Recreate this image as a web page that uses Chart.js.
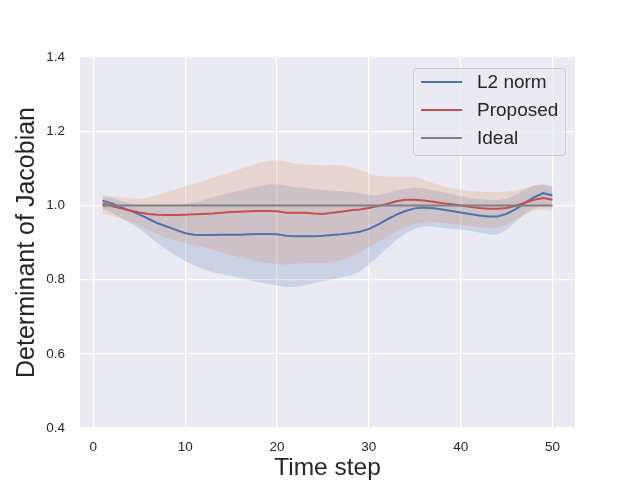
<!DOCTYPE html>
<html>
<head>
<meta charset="utf-8">
<script src="https://cdn.jsdelivr.net/npm/chart.js@4/dist/chart.umd.min.js"></script>
<style>
  body { margin: 0; background: #fff; }
  #wrap { position: relative; width: 640px; height: 480px; }
  #legend {
    position: absolute; left: 413px; top: 68px; width: 151px; height: 86px;
    background: rgba(234, 234, 242, 0.8); border: 1px solid #cccccc; border-radius: 4px;
    font-family: "Liberation Sans", Arial, sans-serif; font-size: 19px; color: #262626;
  }
  .item { position: absolute; left: 0; height: 28px; display: flex; align-items: center; }
  .swatch { width: 41px; height: 2px; margin-left: 7px; margin-right: 15px; }
</style>
</head>
<body>
<div id="wrap">
  <canvas id="chart" width="640" height="480"></canvas>
  <div id="legend"></div>
</div>
<script>
// time steps 1..50
const steps = [1,2,3,4,5,6,7,8,9,10,11,12,13,14,15,16,17,18,19,20,21,22,23,24,25,
               26,27,28,29,30,31,32,33,34,35,36,37,38,39,40,41,42,43,44,45,46,47,48,49,50];

// L2 norm mean and band
const l2Mean = [1.013,1.005,0.995,0.986,0.976,0.964,0.952,0.943,0.934,0.925,
                0.921,0.920,0.920,0.921,0.921,0.921,0.922,0.923,0.923,0.922,
                0.918,0.917,0.917,0.917,0.918,0.920,0.922,0.925,0.929,0.936,
                0.948,0.962,0.975,0.985,0.992,0.994,0.992,0.989,0.985,0.981,
                0.977,0.973,0.970,0.970,0.977,0.990,1.007,1.022,1.033,1.027];
const l2Upper = [1.025,1.020,1.012,1.005,1.000,0.999,0.999,1.000,1.002,1.004,
                 1.008,1.014,1.022,1.028,1.034,1.040,1.046,1.051,1.056,1.057,
                 1.053,1.049,1.047,1.044,1.042,1.040,1.038,1.036,1.033,1.028,
                 1.028,1.033,1.040,1.045,1.048,1.046,1.041,1.036,1.030,1.025,
                 1.020,1.017,1.015,1.014,1.018,1.028,1.042,1.054,1.057,1.050];
const l2Lower = [0.990,0.980,0.967,0.952,0.938,0.918,0.898,0.880,0.865,0.850,
                 0.838,0.828,0.820,0.815,0.810,0.805,0.798,0.793,0.788,0.784,
                 0.780,0.781,0.785,0.790,0.796,0.800,0.806,0.812,0.822,0.840,
                 0.862,0.885,0.906,0.925,0.937,0.944,0.943,0.940,0.937,0.935,
                 0.932,0.927,0.922,0.921,0.935,0.955,0.978,0.993,1.000,0.995];

// Proposed mean and band
const propMean = [1.005,0.998,0.992,0.986,0.981,0.977,0.975,0.974,0.974,0.975,
                  0.976,0.977,0.978,0.980,0.982,0.983,0.984,0.985,0.985,0.984,
                  0.980,0.980,0.980,0.978,0.977,0.980,0.983,0.987,0.989,0.993,
                  0.998,1.004,1.011,1.015,1.015,1.013,1.010,1.006,1.003,1.000,
                  0.996,0.993,0.991,0.991,0.993,0.999,1.007,1.015,1.020,1.015];
const propUpper = [1.028,1.025,1.022,1.019,1.017,1.022,1.029,1.036,1.043,1.052,
                   1.058,1.066,1.074,1.082,1.090,1.098,1.106,1.114,1.120,1.122,
                   1.118,1.113,1.111,1.109,1.108,1.109,1.109,1.104,1.096,1.086,
                   1.079,1.078,1.078,1.078,1.077,1.069,1.060,1.052,1.046,1.042,
                   1.039,1.037,1.036,1.036,1.037,1.040,1.046,1.053,1.054,1.050];
const propLower = [0.977,0.972,0.965,0.957,0.946,0.934,0.922,0.912,0.904,0.898,
                   0.893,0.887,0.881,0.874,0.866,0.860,0.854,0.849,0.845,0.842,
                   0.841,0.843,0.844,0.844,0.844,0.846,0.852,0.862,0.873,0.888,
                   0.900,0.915,0.930,0.942,0.950,0.953,0.955,0.953,0.950,0.947,
                   0.944,0.941,0.940,0.940,0.948,0.962,0.975,0.986,0.988,0.985];

const ideal = steps.map(() => 1.0);

const xTicks = [0, 10, 20, 30, 40, 50];
const yTicks = [0.4, 0.6, 0.8, 1.0, 1.2, 1.4];

const labels = ['L2 norm', 'Proposed', 'Ideal'];
const colors = ['#4C72B0', '#C44E52', '#808080'];

const FONT = '"Liberation Sans", Arial, sans-serif';
const TEXT = '#262626';

function pts(vals) {
    return steps.map((t, i) => ({ x: t, y: vals[i] }));
}

function lineSet(label, vals, color, order) {
    return { label: label, data: pts(vals), borderColor: color, borderWidth: 2,
             pointRadius: 0, fill: false, order: order, tension: 0 };
}

function bandSet(vals, color, fill, order) {
    return { label: '', data: pts(vals), borderWidth: 0, borderColor: 'transparent',
             backgroundColor: color, pointRadius: 0, fill: fill, order: order };
}

// grey plot background
const bgPlugin = {
    id: 'bg',
    beforeDraw(chart) {
        const a = chart.chartArea;
        const ctx = chart.ctx;
        ctx.save();
        ctx.fillStyle = '#EAEAF2';
        ctx.fillRect(a.left, a.top, a.right - a.left, a.bottom - a.top);
        ctx.restore();
    }
};

const ctx = document.getElementById('chart').getContext('2d');
const chart = new Chart(ctx, {
    type: 'line',
    data: {
        datasets: [
            lineSet(labels[2], ideal, colors[2], 0),
            lineSet(labels[1], propMean, colors[1], 1),
            lineSet(labels[0], l2Mean, colors[0], 2),
            bandSet(propUpper, 'rgba(221,132,82,0.2)', '+1', 3),
            bandSet(propLower, 'rgba(221,132,82,0.2)', false, 3),
            bandSet(l2Upper, 'rgba(76,114,176,0.2)', '+1', 4),
            bandSet(l2Lower, 'rgba(76,114,176,0.2)', false, 4)
        ]
    },
    options: {
        responsive: false,
        animation: false,
        devicePixelRatio: 1,
        layout: { padding: { left: 0, right: 65, top: 57, bottom: 0 } },
        plugins: { legend: { display: false }, tooltip: { enabled: false } },
        scales: {
            x: {
                type: 'linear',
                min: -1.45,
                max: 52.45,
                afterBuildTicks: (s) => { s.ticks = xTicks.map(v => ({ value: v })); },
                afterFit: (s) => { s.height = 52; },
                grid: { color: '#ffffff', lineWidth: 1.3, drawTicks: false },
                border: { display: false },
                ticks: { padding: 11, color: TEXT, font: { family: FONT, size: 13.5 } },
                title: { display: true, text: 'Time step', color: TEXT,
                         font: { family: FONT, size: 24.5, lineHeight: 0.8 },
                         padding: { top: 0, bottom: 2 } }
            },
            y: {
                min: 0.4,
                max: 1.4,
                afterBuildTicks: (s) => { s.ticks = yTicks.map(v => ({ value: v })); },
                afterFit: (s) => { s.width = 80; },
                grid: { color: '#ffffff', lineWidth: 1.3, drawTicks: false },
                border: { display: false },
                ticks: { padding: 15, color: TEXT, font: { family: FONT, size: 13.5 },
                         callback: (v) => v.toFixed(1) },
                title: { display: true, text: 'Determinant of Jacobian', color: TEXT,
                         font: { family: FONT, size: 25, lineHeight: 1.2 },
                         padding: { top: 12, bottom: 0 } }
            }
        }
    },
    plugins: [bgPlugin]
});

// legend box
const legend = document.getElementById('legend');
labels.forEach((name, i) => {
    const item = document.createElement('div');
    item.className = 'item';
    item.style.top = (i * 28 - 1) + 'px';
    const sw = document.createElement('span');
    sw.className = 'swatch';
    sw.style.background = colors[i];
    const tx = document.createElement('span');
    tx.textContent = name;
    item.appendChild(sw);
    item.appendChild(tx);
    legend.appendChild(item);
});
</script>
</body>
</html>
